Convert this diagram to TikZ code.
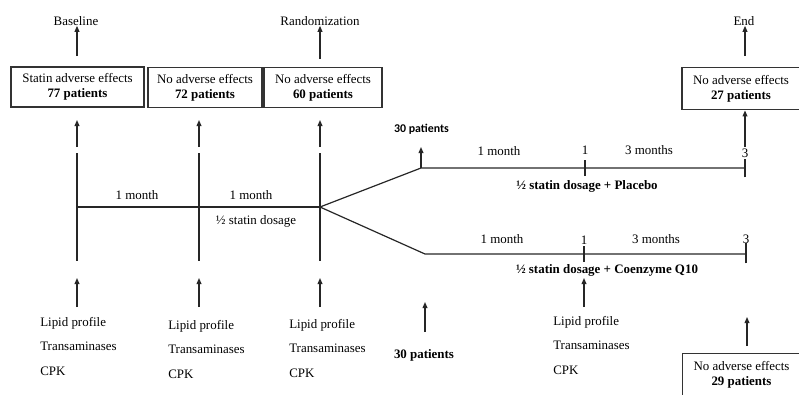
\documentclass[tikz,border=0pt]{standalone}
\usepackage{fontspec}
\setmainfont{Liberation Serif}
\newfontfamily\carlitofont{Carlito}
\usetikzlibrary{arrows.meta}
\begin{document}
\begin{tikzpicture}[x=0.75pt,y=-0.75pt,
  ln/.style={line width=0.9pt, draw=black!85},
  arr/.style={ln, -{Triangle[length=4.5pt,width=3.6pt]}},
  box/.style={draw=black!80, line width=0.9pt, align=center, inner sep=0pt, font=\fontsize{9.7}{11.25}\selectfont},
  lbl/.style={font=\fontsize{9.7}{11.6}\selectfont, inner sep=0pt},
  blbl/.style={lbl, font=\bfseries\fontsize{9.7}{11.6}\selectfont},
  lab/.style={align=left, font=\fontsize{9.7}{18.3}\selectfont, anchor=north west, inner sep=0pt}
]
\useasboundingbox (0,0) rectangle (799,394);

% top labels
\node[lbl] (base) at (76,21) {Baseline};
\node[lbl] (rand) at (320,21) {Randomization};
\node[lbl] (end) at (744,21) {End};

% boxes
\node[box, minimum width=99.75pt, minimum height=30pt] (b1) at (77.5,87) {Statin adverse effects\\\textbf{77 patients}};
\node[box, minimum width=85.5pt, minimum height=30pt] (b2) at (205,87.5) {No adverse effects\\\textbf{72 patients}};
\node[box, minimum width=88.5pt, minimum height=30pt] (b3) at (323,87.5) {No adverse effects\\\textbf{60 patients}};
\node[box, minimum width=88.5pt, minimum height=32pt] (b4) at (741,88.5) {No adverse effects\\\textbf{27 patients}};
\node[box, minimum width=88.5pt, minimum height=32pt] (b5) at (741.5,375) {No adverse effects\\\textbf{29 patients}};

% coordinates
\foreach \n/\x in {1/77,2/199,3/320} {
  \coordinate (at\n) at (\x,147);
  \coordinate (ah\n) at (\x,120);
  \coordinate (vt\n) at (\x,153);
  \coordinate (t\n) at (\x,207);
  \coordinate (vb\n) at (\x,261);
  \coordinate (ab\n) at (\x,278);
  \coordinate (ae\n) at (\x,307);
}
\coordinate (a1) at (77,56);
\coordinate (a3) at (320,59);
\coordinate (a4) at (745,56);
\coordinate (e1) at (745,147);
\coordinate (p0) at (421,168);
\coordinate (p1) at (585,168);
\coordinate (p2) at (745,168);
\coordinate (q0) at (425,254);
\coordinate (q1) at (584,254);
\coordinate (q2) at (746,254);

% arrows to top labels
\draw[arr] (a1) -- (base.south -| a1);
\draw[arr] (a3) -- (rand.south -| a3);
\draw[arr] (a4) -- (end.south -| a4);

% arrows up to boxes
\draw[arr] (at1) -- (ah1);
\draw[arr] (at2) -- (ah2);
\draw[arr] (at3) -- (ah3);

% vertical lines and timeline
\draw[ln] (vt1) -- (vb1);
\draw[ln] (vt2) -- (vb2);
\draw[ln] (vt3) -- (vb3);
\draw[ln] (t1) -- (t3);

% bottom arrows
\draw[arr] (ae1) -- (ab1);
\draw[arr] (ae2) -- (ab2);
\draw[arr] (ae3) -- (ab3);

% timeline labels
\node[lbl] (m1) at (137,195) {1 month};
\node[lbl] (m2) at (251,195) {1 month};
\node[lbl] (hs) at (256,221) {½ statin dosage};

% branches
\draw[ln] (t3) -- (p0) -- (p2);
\draw[ln] (t3) -- (q0) -- (q2);
\draw[ln] ([yshift=-6]p1) -- ([yshift=6]p1);
\draw[ln] ([yshift=-7]p2) -- ([yshift=7]p2);
\draw[ln] ([yshift=-6]q1) -- ([yshift=6]q1);
\draw[ln] ([yshift=-7]q2) -- ([yshift=8]q2);

% upper branch
\draw[arr] (p0) -- ++(0,-21);
\node[inner sep=0pt, font=\carlitofont\bfseries\fontsize{8.9}{10}\selectfont] (n30a) at (421.5,129) {30 patients};
\node[lbl] (um1) at (499,151) {1 month};
\node[lbl] (u1) at (585,150) {1};
\node[lbl] (um3) at (649,150) {3 months};
\node[lbl] (u3) at (745,153) {3};
\node[blbl] (plac) at (587,186) {½ statin dosage + Placebo};
\draw[arr] (e1) -- (b4.south -| e1);

% lower branch
\node[lbl] (lm1) at (502,239) {1 month};
\node[lbl] (l1) at (584,240) {1};
\node[lbl] (lm3) at (656,239) {3 months};
\node[lbl] (l3) at (746,239) {3};
\node[blbl] (coq) at (607,270) {½ statin dosage + Coenzyme Q10};
\draw[arr] (584,307) -- (584,278);
\draw[arr] (425,332) -- (425,302);
\node[blbl] (n30b) at (424,355) {30 patients};
\draw[arr] (747,346) -- (747,317);

% lab columns
\node[lab] (c1) at (40,317) {Lipid profile\\Transaminases\\CPK};
\node[lab] (c2) at (168,320) {Lipid profile\\Transaminases\\CPK};
\node[lab] (c3) at (289,319) {Lipid profile\\Transaminases\\CPK};
\node[lab] (c4) at (553,316) {Lipid profile\\Transaminases\\CPK};
\end{tikzpicture}
\end{document}
